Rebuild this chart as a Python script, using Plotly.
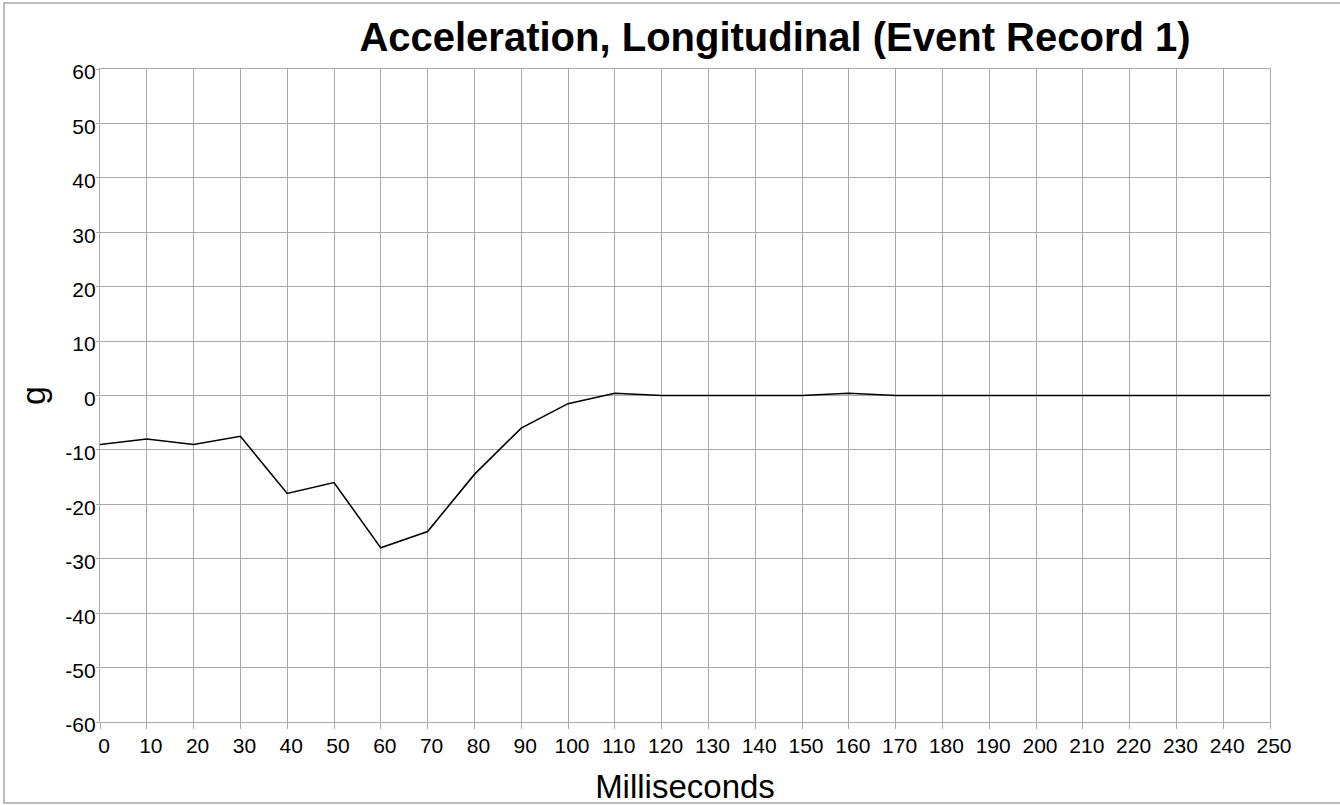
import plotly.graph_objects as go

ms = [0, 10, 20, 30, 40, 50, 60, 70, 80, 90, 100, 110, 120, 130, 140, 150,
      160, 170, 180, 190, 200, 210, 220, 230, 240, 250]
accel_g = [-9, -8, -9, -7.5, -18, -16, -28, -25, -14.5, -6, -1.5, 0.4, 0, 0, 0, 0,
           0.4, 0, 0, 0, 0, 0, 0, 0, 0, 0]
x_ticks = list(range(0, 251, 10))
y_ticks = list(range(-60, 61, 10))

title_text = "Acceleration, Longitudinal (Event Record 1)"
x_title = "Milliseconds"
y_title = "g"

W, H = 1340, 805
L, R, T, B = 100, 1270, 69, 722
grid = "#aaaaaa"
font = "Liberation Sans, Arial, sans-serif"

fig = go.Figure()
fig.add_trace(go.Scatter(x=ms, y=accel_g, mode="lines",
                         line=dict(color="black", width=1.6),
                         hoverinfo="x+y", showlegend=False))

fig.update_layout(
    width=W, height=H,
    margin=dict(l=L, r=W - R, t=T, b=H - B, autoexpand=False),
    paper_bgcolor="white", plot_bgcolor="white",
    font=dict(family=font, color="black"),
    title=dict(text="<b>" + title_text + "</b>", x=775 / W, xanchor="center",
               y=1 - 37 / H, yanchor="middle", xref="container", yref="container",
               font=dict(size=40, family=font, color="black")),
    shapes=[dict(type="rect", xref="paper", yref="paper",
                 x0=(4 - L) / (R - L), x1=(1345 - L) / (R - L),
                 y0=(B - 803) / (B - T), y1=(B - 3) / (B - T),
                 line=dict(color="#a6a6a6", width=1.5), layer="below")],
)

fig.update_xaxes(
    range=[0, 250], tickvals=x_ticks, ticktext=[str(v) for v in x_ticks],
    showgrid=True, gridcolor=grid, gridwidth=1.4,
    showline=True, linecolor=grid, linewidth=1.4, mirror=True,
    ticks="outside", ticklen=6, tickcolor=grid, tickwidth=1.4,
    tickfont=dict(size=21, color="black"), ticklabelstandoff=-1, ticklabelshift=4,
    zeroline=False, automargin=False,
    title=dict(text=x_title, font=dict(size=33, color="black"), standoff=19),
)
fig.update_yaxes(
    range=[-60, 60], tickvals=y_ticks, ticktext=[str(v) for v in y_ticks],
    showgrid=True, gridcolor=grid, gridwidth=1.4,
    showline=True, linecolor=grid, linewidth=1.4, mirror=True,
    ticks="outside", ticklen=3, tickcolor=grid, tickwidth=1.4,
    tickfont=dict(size=21, color="black"), ticklabelshift=3, ticklabelstandoff=-4,
    zeroline=False, automargin=False,
    title=dict(text=y_title, font=dict(size=34, color="black"), standoff=9),
)

fig.write_html("out.html", config={"displayModeBar": False},
               post_script="document.body.style.margin='0';document.body.style.overflow='hidden';")
